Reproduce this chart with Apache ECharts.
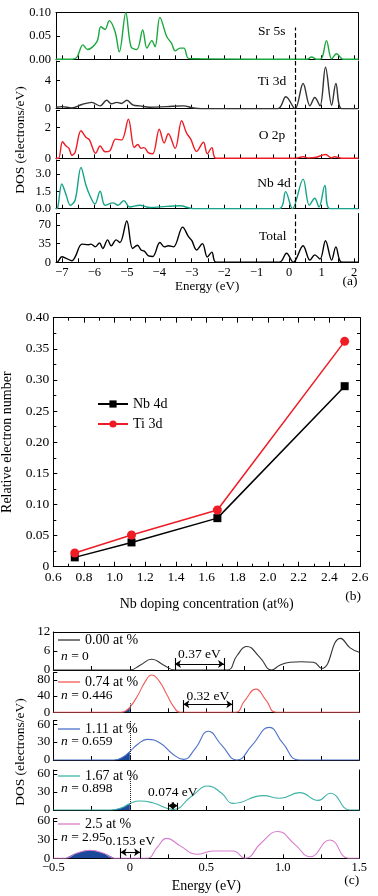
<!DOCTYPE html>
<html><head><meta charset="utf-8">
<script src="https://cdn.jsdelivr.net/npm/echarts@6/dist/echarts.min.js"></script>
<style>html,body{margin:0;padding:0;background:#fff}#c{width:378px;height:896px}</style>
</head><body><div id="c"></div>
<script>
// ================= Panel (a) data: DOS vs energy (eV) =================
const srE = [-7.18, -6.69, -6.54, -6.35, -6.21, -5.92, -5.8, -5.67, -5.54, -5.36, -5.23, -5.03, -4.87, -4.69, -4.51, -4.38, -4.23, -4.13, -3.98, -3.77, -3.62, -3.51, -3.36, -3.24, -3.1, -2.74, 0.55, 0.69, 0.85, 1.0, 1.15, 1.31, 1.46, 1.66, 2.13];
const srV = [0, 0, 0.004, 0.031, 0.021, 0.038, 0.07, 0.064, 0.083, 0.059, 0.016, 0.10, 0.027, 0.021, 0.063, 0.024, 0.04, 0.027, 0.09, 0.049, 0.034, 0.018, 0.024, 0.024, 0.002, 0.001, 0, 0.005, 0, 0.002, 0.04, 0.001, 0.012, 0, 0];

const tiE = [-7.18, -7.0, -6.69, -6.38, -6.08, -5.82, -5.62, -5.47, -5.31, -5.16, -5.0, -4.8, -4.6, -4.29, -3.77, -3.26, -2.95, -2.7, -0.35, -0.1, 0.18, 0.43, 0.64, 0.79, 0.95, 1.12, 1.31, 1.44, 1.62, 2.13];
const tiV = [0.2, 0.3, 0.1, 0.6, 0.9, 0.4, 1.2, 0.7, 0.9, 0.75, 1.2, 0.5, 0.4, 0.2, 0.3, 0.4, 0.1, 0, 0, 1.7, 0, 3.6, 0.4, 1.6, 0.4, 5.9, 0.5, 3.6, 0, 0];

const oE = [-7.18, -7.1, -6.98, -6.87, -6.78, -6.69, -6.59, -6.41, -6.26, -6.15, -5.96, -5.82, -5.67, -5.52, -5.34, -5.16, -4.95, -4.77, -4.66, -4.56, -4.47, -4.33, -4.2, -4.0, -3.85, -3.72, -3.51, -3.31, -3.16, -3.03, -2.85, -2.64, -2.52, -2.38, -2.25, 0.2, 0.43, 0.6, 0.8, 1.13, 1.3, 1.4, 1.62, 2.13];
const oV = [0, 0, 1.08, 0.8, 0.65, 0.2, 0.4, 1.8, 1.37, 1.2, 0.33, 0.8, 0.43, 0.5, 1.25, 1.2, 2.55, 0.7, 0.9, 0.65, 0.7, 0.35, 0.3, 1.9, 1.0, 1.6, 0.65, 2.45, 1.65, 1.25, 0.45, 1.05, 0.3, 0.7, 0, 0, 0.1, 0.03, 0.05, 0.25, 0.03, 0.1, 0, 0];

const nbE = [-7.18, -7.13, -7.0, -6.87, -6.74, -6.59, -6.41, -6.26, -6.13, -5.98, -5.82, -5.67, -5.42, -5.27, -5.09, -4.91, -4.6, -4.29, -3.77, -3.36, -2.95, -0.3, -0.11, 0.1, 0.43, 0.62, 0.79, 0.92, 1.1, 1.25, 2.13];
const nbV = [0, 0.05, 2.13, 1.2, 0.3, 0.75, 3.55, 2.05, 1.1, 0.4, 1.5, 0.3, 0.5, 0.3, 0.7, 0.15, 0.3, 0.1, 0.2, 0.25, 0, 0, 1.47, 0, 2.55, 0.3, 0.9, 0.15, 2.0, 0, 0];

const totE = [-7.18, -7.15, -7.0, -6.85, -6.69, -6.59, -6.38, -6.18, -6.1, -5.97, -5.84, -5.74, -5.59, -5.48, -5.33, -5.21, -5.0, -4.82, -4.67, -4.56, -4.46, -4.33, -4.2, -3.98, -3.84, -3.72, -3.56, -3.28, -3.1, -3.0, -2.85, -2.67, -2.52, -2.38, -2.25, -0.3, -0.08, 0.13, 0.43, 0.64, 0.79, 0.95, 1.12, 1.31, 1.44, 1.62, 2.13];
const totV = [0, 0, 10.5, 7, 3, 10, 34, 33, 34, 29, 36.5, 26, 42, 31, 42, 37, 77.5, 26, 32, 23, 21, 12, 11, 37, 29, 31, 29, 66, 48, 41, 23, 35, 10, 19, 0, 0, 17, 0, 31, 4, 14, 6, 40.5, 4, 29, 0, 0];

const aLabels = ['Sr 5s', 'Ti 3d', 'O 2p', 'Nb 4d', 'Total'];
const fermiA = 0.18;

// ================= Panel (b) data =================
const dopingConc = [0.74, 1.11, 1.67, 2.5];
const nb4dRel = [0.015, 0.039, 0.078, 0.290];
const ti3dRel = [0.022, 0.051, 0.091, 0.362];

// ================= Panel (c) data =================
const c0E = [-0.5, 0.0, 0.07, 0.143, 0.22, 0.295, 0.633, 0.7, 0.764, 0.85, 0.927, 0.98, 1.047, 1.12, 1.2, 1.254, 1.378, 1.44, 1.5];
const c0V = [0, 0, 1.6, 3.4, 1.6, 0, 0, 4.5, 7.4, 4, 0, 1.5, 2.45, 2.6, 2.45, 0.5, 10, 7, 5.6];
const c1E = [-0.5, -0.06, -0.03, 0, 0.05, 0.1, 0.143, 0.19, 0.24, 0.29, 0.33, 0.688, 0.75, 0.825, 0.89, 0.96, 1.5];
const c1V = [0, 0, 3, 12, 40, 75, 92, 78, 45, 12, 0, 0, 28, 57, 30, 0, 0];
const c2E = [-0.5, -0.1, -0.05, 0, 0.05, 0.114, 0.2, 0.28, 0.35, 0.43, 0.513, 0.6, 0.7, 0.8, 0.912, 1.0, 1.11, 1.5];
const c2V = [0, 0, 4, 14, 26, 34.5, 28, 10, 1, 20, 48, 25, 0, 25, 54.5, 28, 0, 0];
const c3E = [-0.5, -0.12, -0.05, 0, 0.067, 0.15, 0.284, 0.4, 0.513, 0.6, 0.676, 0.873, 0.98, 1.11, 1.232, 1.31, 1.44, 1.5];
const c3V = [0, 0, 4, 11, 15, 12, 1, 22, 40, 28, 11, 24, 19.5, 29, 16, 28, 0, 0];
const c4E = [-0.5, -0.42, -0.35, -0.26, -0.17, -0.1, 0.11, 0.18, 0.241, 0.33, 0.437, 0.545, 0.675, 0.753, 0.86, 0.967, 1.08, 1.178, 1.308, 1.43, 1.5];
const c4V = [0, 0, 8, 13, 8, 0, 0, 18, 32, 20, 6.5, 11.7, 11.7, 0, 25, 43, 22, 2.6, 29.5, 0, 0];

const cNames = ['0.00 at %', '0.74 at %', '1.11 at %', '1.67 at %', '2.5 at %'];
const cElectronN = ['0', '0.446', '0.659', '0.898', '2.95'];
const cFillFrom = [null, -0.06, -0.1, -0.12, -0.42];
const cFillTo = [null, 0, 0, 0, -0.1];
const cGapText = ['0.37 eV', '0.32 eV', null, '0.074 eV', '0.153 eV'];
const cGapStart = [0.295, 0.35, null, 0.251, -0.06];
const cGapEnd = [0.616, 0.67, null, 0.312, 0.067];

// ================= Build chart =================
const FONT = 'Liberation Serif';
const BLACK = '#000';
const option = {animation: false, backgroundColor: '#fff', textStyle: {fontFamily: FONT}, grid: [], xAxis: [], yAxis: [], series: [], legend: [], graphic: []};
function ts(size) { return {color: BLACK, fontFamily: FONT, fontSize: size, fontWeight: 'normal'}; }
function pairs(E, V) { return E.map((e, i) => [e, V[i]]); }
function stepFmt(step, dec, zeroPlain) {
  return function (v) {
    const r = v / step;
    if (Math.abs(r - Math.round(r)) > 1e-6) return '';
    if (zeroPlain && Math.abs(v) < 1e-9) return '0';
    return (v < -1e-9 ? '\u2212' : '') + Math.abs(v).toFixed(dec);
  };
}
function axisLineS() { return {show: true, onZero: false, lineStyle: {color: BLACK, width: 1}}; }
function gtext(x, y, text, size, extra) {
  return Object.assign({type: 'text', x: x, y: y,
    style: {text: text, fill: BLACK, fontFamily: FONT, fontSize: size, fontWeight: 'normal', align: 'center', verticalAlign: 'middle'}}, extra || {});
}

function addPanel(p) {
  const gi = option.grid.length;
  option.grid.push({left: p.l, top: p.t, width: p.r - p.l, height: p.b - p.t, containLabel: false, outerBoundsMode: 'none'});
  const xi = option.xAxis.length;
  const xBase = {
    type: 'value', gridIndex: gi, min: p.xmin, max: p.xmax, interval: p.xint, splitNumber: p.xsplit,
    axisLine: axisLineS(),
    axisTick: {show: true, inside: true, length: p.tickLen || 4, lineStyle: {color: BLACK, width: 1}},
    minorTick: {show: true, splitNumber: 2, length: p.minorLen || 3, lineStyle: {color: BLACK, width: 1}},
    splitLine: {show: false}, minorSplitLine: {show: false}
  };
  option.xAxis.push(Object.assign({}, xBase, {
    position: 'bottom',
    axisLabel: Object.assign({show: !!p.xlabels, formatter: p.xfmt, margin: p.xmargin || 3}, ts(p.xfs || 12.5)),
    name: p.xname || '', nameLocation: 'middle', nameGap: p.xnameGap || 14, nameTextStyle: ts(p.xnfs || 13)
  }));
  if (p.topLine) {
    option.xAxis.push(Object.assign({}, xBase, {
      position: 'top', axisTick: p.mirror ? xBase.axisTick : {show: false},
      minorTick: p.mirror ? xBase.minorTick : {show: false}, axisLabel: {show: false}
    }));
  }
  const yi = option.yAxis.length;
  const yBase = {
    type: 'value', gridIndex: gi, min: 0, max: p.ymax, interval: p.yint,
    axisLine: axisLineS(),
    axisTick: {show: true, inside: true, length: 4, lineStyle: {color: BLACK, width: 1}},
    minorTick: {show: !!p.yminor, splitNumber: 2, length: 3, lineStyle: {color: BLACK, width: 1}},
    splitLine: {show: false}, minorSplitLine: {show: false}
  };
  option.yAxis.push(Object.assign({}, yBase, {
    position: 'left',
    axisLabel: Object.assign({show: true, formatter: p.yfmt, margin: p.ymargin || 4}, ts(p.yfs || 12.5)),
    name: p.yname || '', nameLocation: 'middle', nameGap: p.ynameGap || 30, nameRotate: 90, nameTextStyle: ts(p.ynfs || 13)
  }));
  option.yAxis.push(Object.assign({}, yBase, {
    position: 'right', axisTick: p.mirror ? yBase.axisTick : {show: false},
    minorTick: p.mirror ? yBase.minorTick : {show: false}, axisLabel: {show: false}
  }));
  return {xi: xi, yi: yi};
}

// ---- Panel (a)
const aLayout = [
  {t: 12.7, b: 59.3, ymax: 0.10, yint: 0.05, dec: 2, top: true},
  {t: 61, b: 108.7, ymax: 6.8, yint: 4, dec: 0},
  {t: 110.5, b: 158.3, ymax: 3.12, yint: 2, dec: 0},
  {t: 160, b: 208.7, ymax: 4.2, yint: 1.5, dec: 1},
  {t: 213.5, b: 262.3, ymax: 91.5, yint: 35, dec: 0}
];
const aSeries = [[srE, srV, '#1aa83e'], [tiE, tiV, '#333333'], [oE, oV, '#ee1c25'], [nbE, nbV, '#17a389'], [totE, totV, '#000000']];
const aDashTop = [0.068, null, null, null, null];
aLayout.forEach((L, i) => {
  const last = i === aLayout.length - 1;
  const ax = addPanel({
    l: 56, r: 358.3, t: L.t, b: L.b, xmin: -7.18, xmax: 2.13, xsplit: 9, minorLen: 4,
    xlabels: last, xfmt: stepFmt(1, 0, true), xmargin: 3.5, xname: last ? 'Energy (eV)' : '', xnameGap: 13,
    ymax: L.ymax, yint: L.yint, yfmt: stepFmt(L.yint, L.dec, false), ymargin: 5, topLine: !!L.top
  });
  const s = aSeries[i];
  option.series.push({
    name: aLabels[i] + ' DOS', type: 'line', xAxisIndex: ax.xi, yAxisIndex: ax.yi,
    data: pairs(s[0], s[1]), showSymbol: false, symbol: 'none', smooth: 0.35,
    lineStyle: {color: s[2], width: 1.4}, itemStyle: {color: s[2]},
    markLine: {silent: true, symbol: ['none', 'none'], label: {show: false},
      lineStyle: {type: 'dashed', color: BLACK, width: 1.2},
      data: [[{coord: [fermiA, 0]}, {coord: [fermiA, aDashTop[i] != null ? aDashTop[i] : L.ymax]}]]}
  });
});
const aLabelPos = [[271.7, 31.7], [272, 81.7], [272, 135], [274, 183.3], [272.7, 236]];
aLabels.forEach((t, i) => option.graphic.push(gtext(aLabelPos[i][0], aLabelPos[i][1], t, 13.5)));
option.graphic.push(gtext(20, 140, 'DOS (electrons/eV)', 13.5, {rotation: Math.PI / 2}));
option.graphic.push(gtext(350, 281.7, '(a)', 13.5));

// ---- Panel (b)
const bAx = addPanel({
  l: 53.3, r: 360, t: 317.7, b: 566.7, xmin: 0.6, xmax: 2.6, xint: 0.2, minorLen: 3, tickLen: 5,
  xlabels: true, xfmt: stepFmt(0.2, 1, false), xfs: 13.5, xmargin: 4, xname: 'Nb doping concentration (at%)', xnfs: 14, xnameGap: 31,
  ymax: 0.40, yint: 0.05, yminor: true, yfmt: stepFmt(0.05, 2, true), yfs: 13.5, ymargin: 4,
  yname: 'Relative electron number', ynfs: 14, ynameGap: 29, topLine: true, mirror: true
});
option.series.push({
  name: 'Nb 4d', type: 'line', xAxisIndex: bAx.xi, yAxisIndex: bAx.yi, data: pairs(dopingConc, nb4dRel),
  symbol: 'rect', symbolSize: 8, lineStyle: {color: '#000', width: 1.5}, itemStyle: {color: '#000'}
});
option.series.push({
  name: 'Ti 3d', type: 'line', xAxisIndex: bAx.xi, yAxisIndex: bAx.yi, data: pairs(dopingConc, ti3dRel),
  symbol: 'circle', symbolSize: 9, lineStyle: {color: '#ee1c25', width: 1.5}, itemStyle: {color: '#ee1c25'}
});
option.legend.push({data: ['Nb 4d', 'Ti 3d'], orient: 'vertical', left: 97, top: 397, padding: 0,
  itemWidth: 30, itemHeight: 9, itemGap: 6, selectedMode: false, textStyle: ts(14)});
option.graphic.push(gtext(353, 596.7, '(b)', 13.5));

// ---- Panel (c)
const cLayout = [
  {t: 632, b: 670, ymax: 12, yint: 6, top: true, barH: 3.8, arrY: 1.9, lblDist: 3},
  {t: 672.5, b: 712.3, ymax: 98, yint: 40, barH: 30, arrY: 20, lblDist: 1, dotH: 25},
  {t: 720.5, b: 760, ymax: 66, yint: 30, dotH: 66},
  {t: 770, b: 810, ymax: 66.7, yint: 30, barH: 12, arrY: 7.2, lblDist: 6, dotH: 66.7},
  {t: 818.5, b: 858.3, ymax: 64, yint: 30, barH: 16.5, arrY: 9.7, lblDist: 4}
];
const cData = [[c0E, c0V, '#333333'], [c1E, c1V, '#f25a5a'], [c2E, c2V, '#4d72c9'], [c3E, c3V, '#3db3a6'], [c4E, c4V, '#d77ccf']];
const cLegendTop = [633, 675, 722, 769, 817];
const cNTextY = [656, 695.7, 741, 788.3, 837.7];
const FILL = '#1b4a9b';
cLayout.forEach((L, i) => {
  const last = i === cLayout.length - 1;
  const ax = addPanel({
    l: 53.3, r: 359.3, t: L.t, b: L.b, xmin: -0.5, xmax: 1.5, xint: 0.5, minorLen: 4,
    xlabels: last, xfmt: stepFmt(0.5, 1, true), xmargin: 2.5, xname: last ? 'Energy (eV)' : '', xnameGap: 21.5, xnfs: 14,
    ymax: L.ymax, yint: L.yint, yfmt: stepFmt(L.yint, 0, false), ymargin: 3, yfs: 13, topLine: !!L.top
  });
  const d = cData[i];
  if (cFillFrom[i] != null) {
    const fillPts = pairs(d[0], d[1]).filter(pt => pt[0] >= cFillFrom[i] - 1e-9 && pt[0] <= cFillTo[i] + 1e-9);
    option.series.push({
      name: 'fill ' + cNames[i], type: 'line', xAxisIndex: ax.xi, yAxisIndex: ax.yi, data: fillPts,
      showSymbol: false, symbol: 'none', smooth: 0.5, lineStyle: {width: 0, color: FILL},
      areaStyle: {color: FILL, opacity: 1}, itemStyle: {color: FILL}, z: 1
    });
  }
  const ml = [];
  if (L.dotH) ml.push([{coord: [0, 0], lineStyle: {type: 'dotted', width: 1, color: '#222'}}, {coord: [0, L.dotH]}]);
  if (cGapText[i]) {
    const x0 = cGapStart[i], x1 = cGapEnd[i];
    ml.push([{coord: [x0, 0]}, {coord: [x0, L.barH]}]);
    ml.push([{coord: [x1, 0]}, {coord: [x1, L.barH]}]);
    ml.push([{coord: [x0, L.arrY], symbol: 'arrow',
      label: {show: true, formatter: cGapText[i], position: 'insideMiddleTop', distance: L.lblDist, color: BLACK, fontFamily: FONT, fontSize: 13.5, fontWeight: 'normal'}},
      {coord: [x1, L.arrY], symbol: 'arrow'}]);
  }
  option.series.push({
    name: cNames[i], type: 'line', xAxisIndex: ax.xi, yAxisIndex: ax.yi, data: pairs(d[0], d[1]),
    showSymbol: false, symbol: 'none', smooth: 0.5, lineStyle: {color: d[2], width: 1.1}, itemStyle: {color: d[2]}, z: 3,
    markLine: {silent: true, symbol: ['none', 'none'], symbolSize: 6, label: {show: false},
      lineStyle: {type: 'solid', color: BLACK, width: 1.1}, data: ml}
  });
  option.legend.push({data: [{name: cNames[i], icon: 'rect'}], left: 58, top: cLegendTop[i], padding: 0, itemWidth: 22, itemHeight: 1.3,
    selectedMode: false, textStyle: ts(14)});
  option.graphic.push({type: 'text', x: 61, y: cNTextY[i],
    style: {text: '{i|n} = ' + cElectronN[i], fill: BLACK, fontFamily: FONT, fontSize: 13.5, fontWeight: 'normal', verticalAlign: 'middle', align: 'left',
      rich: {i: {fontStyle: 'italic', fontFamily: FONT, fontSize: 13.5, fill: BLACK}}}});
});
option.graphic.push(gtext(20, 752, 'DOS (electrons/eV)', 13.5, {rotation: Math.PI / 2}));
option.graphic.push(gtext(351.7, 880, '(c)', 13.5));

const chart = echarts.init(document.getElementById('c'), null, {renderer: 'canvas', width: 378, height: 896});
chart.setOption(option);
</script></body></html>
